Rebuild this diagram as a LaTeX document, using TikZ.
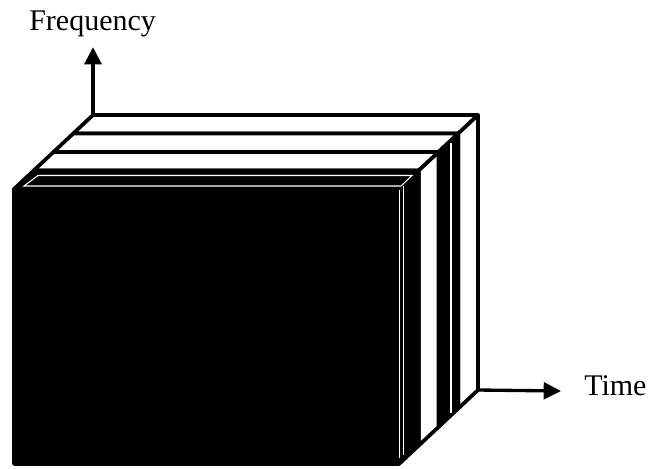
\documentclass[tikz,border=0pt]{standalone}
\usepackage{fontspec}
\setmainfont{Liberation Serif}
\usetikzlibrary{arrows.meta}
\begin{document}
\begin{tikzpicture}[x=0.75pt,y=-0.75pt,
  edge/.style={draw=black,line width=2.8pt,line join=round},
  lightface/.style={edge,fill=white},
  darkface/.style={edge,fill=black},
  glint/.style={draw=white,line width=0.8pt},
  axis/.style={draw=black,line width=3pt,-{Triangle[length=13pt,width=12.5pt]}},
  lab/.style={font=\fontsize{22.5}{26}\selectfont,inner sep=0pt,anchor=base west}]
\useasboundingbox (0,0) rectangle (652,468);
% planes of the slab stack, back (0) to front (4)
\coordinate (TL0) at (93,115);    \coordinate (TR0) at (478,115);    \coordinate (BR0) at (478,390);
\coordinate (TL1) at (73.25,133.5); \coordinate (TR1) at (458.25,133.5); \coordinate (BR1) at (458.25,408.5);
\coordinate (TL2) at (53.5,152);  \coordinate (TR2) at (438.5,152);  \coordinate (BR2) at (438.5,427);
\coordinate (TL3) at (33.75,170.5); \coordinate (TR3) at (418.75,170.5); \coordinate (BR3) at (418.75,445.5);
\coordinate (TL4) at (14,189);    \coordinate (TR4) at (399,189);    \coordinate (BR4) at (399,464);
\coordinate (BL4) at (14,464);
% slab 0 (back)
\draw[lightface] (TL0) -- (TR0) -- (TR1) -- (TL1) -- cycle;
\draw[lightface] (TR0) -- (BR0) -- (BR1) -- (TR1) -- cycle;
% slab 1
\draw[lightface] (TL1) -- (TR1) -- (TR2) -- (TL2) -- cycle;
\draw[darkface] (TR1) -- (BR1) -- (BR2) -- (TR2) -- cycle;
\draw[glint] (451,143) -- (451,413);
% slab 2
\draw[lightface] (TL2) -- (TR2) -- (TR3) -- (TL3) -- cycle;
\draw[lightface] (TR2) -- (BR2) -- (BR3) -- (TR3) -- cycle;
% slab 3 (front)
\draw[darkface] (TL3) -- (TR3) -- (TR4) -- (TL4) -- cycle;
\draw[darkface] (TR3) -- (BR3) -- (BR4) -- (TR4) -- cycle;
\draw[darkface] (TL4) -- (TR4) -- (BR4) -- (BL4) -- cycle;
% white highlights on the front slab
\draw[glint] (38,175.5) -- (412,175.5) -- (401,186) -- (24,186) -- cycle;
\draw[glint] (399.5,190) -- (399.5,458);
\draw[glint] (403.5,186) -- (403.5,455);
% axes
\coordinate (ftip) at (93,47);
\coordinate (ttip) at (561,391);
\draw[axis] (TL0) -- (ftip);
\draw[axis,line width=2.5pt] (BR0) -- (ttip);
\node[lab] (flab) at (29,30) {Frequency};
\node[lab] (tlab) at (584,395) {Time};
\end{tikzpicture}
\end{document}
